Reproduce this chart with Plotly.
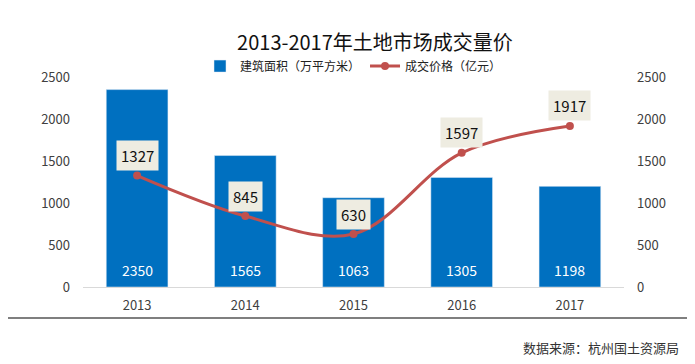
import plotly.graph_objects as go

years = ["2013", "2014", "2015", "2016", "2017"]
area = [2350, 1565, 1063, 1305, 1198]
price = [1327, 845, 630, 1597, 1917]
yticks = [0, 500, 1000, 1500, 2000, 2500]

title_text = "2013-2017年土地市场成交量价"
area_name = "建筑面积（万平方米）"
price_name = "成交价格（亿元）"
source_text = "数据来源：杭州国土资源局"

FONT = "Noto Sans CJK SC, Open Sans, sans-serif"
BAR_C = "#0070c0"
LINE_C = "#c0504d"

fig = go.Figure()
fig.add_trace(go.Bar(
    x=years, y=area, name=area_name, marker_color=BAR_C,
))
fig.add_trace(go.Scatter(
    x=years, y=price, name=price_name, yaxis="y2", mode="lines+markers",
    line=dict(color=LINE_C, width=3, shape="spline", smoothing=1),
    marker=dict(color=LINE_C, size=8),
))

# bar value labels near bar bottoms
for i, v in enumerate(area):
    fig.add_annotation(
        x=i, y=0, xref="x", yref="y", text=str(v), showarrow=False,
        yanchor="middle", yshift=17,
        font=dict(size=14, color="white", family=FONT),
    )

# line value labels in beige boxes
for i, v in enumerate(price):
    fig.add_annotation(
        x=i, y=v, xref="x", yref="y2", text=str(v), showarrow=False, yshift=20,
        bgcolor="#eeece1", borderpad=4,
        font=dict(size=15, color="#111111", family=FONT),
    )

fig.add_annotation(
    xref="paper", yref="paper", x=1.105, y=-0.29, xanchor="right", yanchor="middle",
    text=source_text, showarrow=False, font=dict(size=13, color="#333333", family=FONT),
)
fig.add_shape(
    type="line", xref="paper", yref="paper", x0=-0.139, x1=1.122, y0=-0.148, y1=-0.148,
    line=dict(color="#7f7f7f", width=2),
)

axis_font = dict(size=13, color="#404040", family=FONT)
fig.update_layout(
    width=695, height=364,
    margin=dict(l=75, r=79, t=69, b=85),
    paper_bgcolor="white", plot_bgcolor="white",
    font=dict(family=FONT),
    title=dict(text=title_text, x=0.528, xanchor="center", y=0.905, yanchor="middle",
               font=dict(size=20, color="#111111", family=FONT)),
    bargap=0.43,
    showlegend=True,
    legend=dict(orientation="h", x=0.5, xanchor="center", y=1.052, yanchor="middle",
                font=dict(size=12, color="#222222", family=FONT), bgcolor="rgba(0,0,0,0)",
                itemwidth=30, tracegroupgap=0),
    xaxis=dict(type="category", range=[-0.5, 4.5], showgrid=False, showline=True,
               linecolor="#d9d9d9", linewidth=1,
               tickfont=axis_font, ticks="", ticklabelstandoff=6),
    yaxis=dict(range=[0, 2500], tickvals=yticks, showgrid=False, showline=False,
               zeroline=False, tickfont=axis_font, ticklabelstandoff=12),
    yaxis2=dict(range=[0, 2500], tickvals=yticks, overlaying="y", side="right",
                showgrid=False, showline=False, zeroline=False, tickfont=axis_font,
                ticklabelstandoff=12),
)

fig.write_html("out.html")
